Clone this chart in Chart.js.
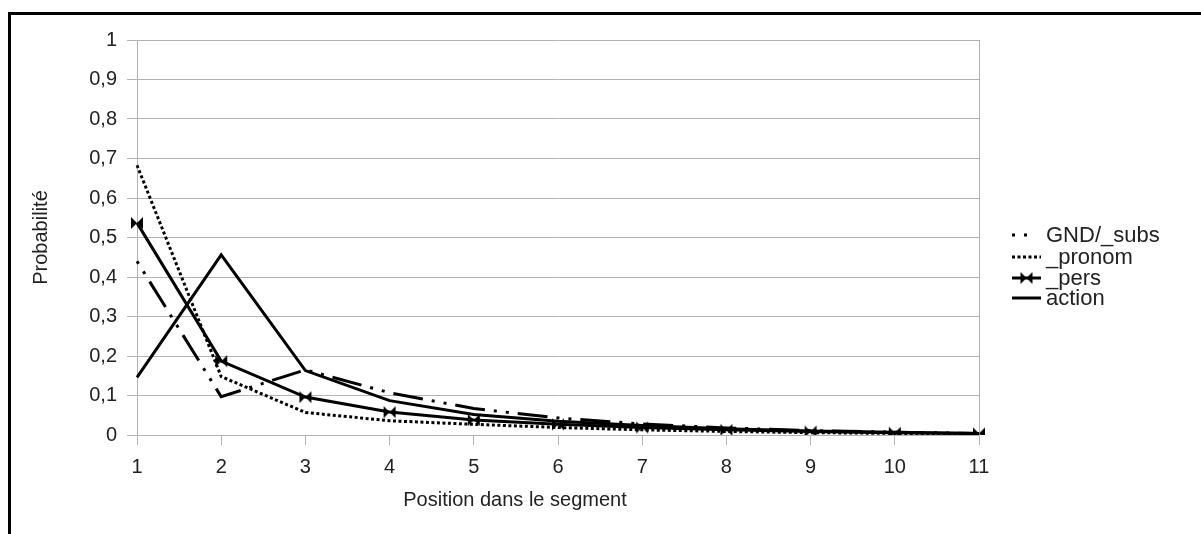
<!DOCTYPE html>
<html>
<head>
<meta charset="utf-8">
<script src="https://cdn.jsdelivr.net/npm/chart.js@4/dist/chart.umd.min.js"></script>
<style>
  html, body { margin: 0; padding: 0; background: #fff; }
  #wrap { position: relative; width: 1201px; height: 534px; }
</style>
</head>
<body>
<div id="wrap"><canvas id="c" width="1201" height="534"></canvas></div>
<script>
// Positions 1..11 within the segment
const positions = ['1', '2', '3', '4', '5', '6', '7', '8', '9', '10', '11'];
const yTicks = [0, 0.1, 0.2, 0.3, 0.4, 0.5, 0.6, 0.7, 0.8, 0.9, 1];

const gndSubs = [0.44, 0.097, 0.165, 0.107, 0.067, 0.043, 0.028, 0.018, 0.011, 0.007, 0.004];
const pronom  = [0.683, 0.148, 0.057, 0.036, 0.027, 0.019, 0.013, 0.009, 0.006, 0.004, 0.003];
const pers    = [0.537, 0.187, 0.096, 0.058, 0.038, 0.027, 0.019, 0.013, 0.009, 0.006, 0.004];
const action  = [0.146, 0.456, 0.163, 0.087, 0.052, 0.035, 0.024, 0.016, 0.010, 0.007, 0.004];

const xTitle = 'Position dans le segment';
const yTitle = 'Probabilité';

const FONT = 'Liberation Sans, Arial, sans-serif';
const TEXT = '#222';
const GRID = '#b3b3b3';

// Bow-tie marker (two facing triangles)
function bowtie(r) {
  const cv = document.createElement('canvas');
  cv.width = 2 * r + 2; cv.height = 2 * r + 2;
  const g = cv.getContext('2d');
  const c = r + 1;
  g.fillStyle = '#000';
  g.beginPath();
  g.moveTo(c - r, c - r); g.lineTo(c, c); g.lineTo(c - r, c + r); g.closePath();
  g.moveTo(c + r, c - r); g.lineTo(c, c); g.lineTo(c + r, c + r); g.closePath();
  g.fill();
  return cv;
}
const marker = bowtie(6);

const series = [
  { label: 'GND/_subs', data: gndSubs, borderDash: [3, 9, 3, 9, 30, 9], pointStyle: false, sampleEnd: 1034 },
  { label: '_pronom',   data: pronom,  borderDash: [3, 2.5], pointStyle: false, sampleEnd: 1041 },
  { label: '_pers',     data: pers,    borderDash: [], pointStyle: marker, sampleEnd: 1041 },
  { label: 'action',    data: action,  borderDash: [], pointStyle: false, sampleEnd: 1041 }
];

// Outer frame, x-axis title and legend
const decor = {
  id: 'decor',
  beforeDraw(chart) {
    const ctx = chart.ctx;
    ctx.save();
    ctx.strokeStyle = '#000';
    ctx.lineWidth = 3;
    ctx.beginPath();
    ctx.moveTo(9.5, 534); ctx.lineTo(9.5, 13.5); ctx.lineTo(1201, 13.5);
    ctx.stroke();
    ctx.restore();
  },
  afterDraw(chart) {
    const ctx = chart.ctx;
    ctx.save();
    ctx.fillStyle = TEXT;
    ctx.font = '20px ' + FONT;
    ctx.textAlign = 'center';
    ctx.textBaseline = 'middle';
    ctx.fillText(xTitle, 515, 500);

    const ys = [235, 257, 278, 298];
    series.forEach((s, i) => {
      const y = ys[i];
      ctx.strokeStyle = '#000';
      ctx.lineWidth = 3;
      ctx.lineCap = 'butt';
      ctx.setLineDash(s.borderDash);
      ctx.beginPath();
      ctx.moveTo(1012, y); ctx.lineTo(s.sampleEnd, y);
      ctx.stroke();
      ctx.setLineDash([]);
      if (s.pointStyle) {
        ctx.drawImage(s.pointStyle, 1026.5 - s.pointStyle.width / 2, y - s.pointStyle.height / 2);
      }
      ctx.fillStyle = TEXT;
      ctx.font = '22px ' + FONT;
      ctx.textBaseline = 'middle';
      ctx.textAlign = 'left';
      ctx.fillText(s.label, 1046, y + 1);
    });
    ctx.restore();
  }
};

new Chart(document.getElementById('c'), {
  type: 'line',
  data: {
    labels: positions,
    datasets: series.map(s => ({
      label: s.label,
      data: s.data,
      borderColor: '#000',
      backgroundColor: '#000',
      borderWidth: 3,
      borderDash: s.borderDash,
      borderCapStyle: 'butt',
      borderJoinStyle: 'miter',
      tension: 0,
      fill: false,
      pointStyle: s.pointStyle,
      pointRadius: s.pointStyle ? 6 : 0,
      pointHoverRadius: s.pointStyle ? 6 : 0
    }))
  },
  options: {
    responsive: false,
    animation: false,
    devicePixelRatio: 1,
    layout: { padding: { left: 0, right: 222, top: 40, bottom: 0 } },
    plugins: {
      legend: { display: false },
      tooltip: { enabled: false }
    },
    scales: {
      x: {
        type: 'category',
        offset: false,
        afterFit(scale) { scale.height = 99; },
        grid: {
          drawOnChartArea: true,
          color: ctx => ctx.index === positions.length - 1 ? GRID : 'rgba(0,0,0,0)',
          tickColor: GRID,
          tickLength: 10,
          lineWidth: 1
        },
        border: { display: true, color: GRID, width: 1 },
        ticks: { color: TEXT, font: { family: FONT, size: 20 }, padding: 10, maxRotation: 0, autoSkip: false },
        title: { display: false }
      },
      y: {
        min: 0,
        max: 1,
        afterFit(scale) { scale.width = 137; },
        afterBuildTicks(scale) { scale.ticks = yTicks.map(v => ({ value: v })); },
        grid: { color: GRID, tickColor: GRID, tickLength: 10, lineWidth: 1 },
        border: { display: true, color: GRID, width: 1 },
        ticks: {
          color: TEXT,
          font: { family: FONT, size: 20 },
          padding: 10,
          callback: v => (Math.round(v * 10) / 10).toString().replace('.', ',')
        },
        title: {
          display: true,
          text: yTitle,
          color: TEXT,
          font: { family: FONT, size: 20 },
          padding: 29
        }
      }
    }
  },
  plugins: [decor]
});
</script>
</body>
</html>
